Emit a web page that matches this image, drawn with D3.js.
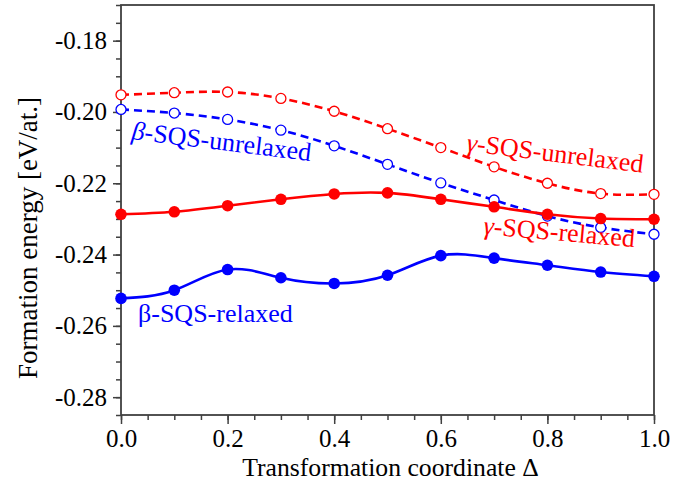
<!DOCTYPE html>
<html>
<head>
<meta charset="utf-8">
<script src="https://cdn.jsdelivr.net/npm/d3@7"></script>
<style>
  body { margin: 0; background: #fff; }
  svg text { font-family: "Liberation Serif", "Times New Roman", serif; }
</style>
</head>
<body>
<svg id="chart" width="681" height="483"></svg>
<script>
// ---- Data ----
const coords = [0.0, 0.1, 0.2, 0.3, 0.4, 0.5, 0.6, 0.7, 0.8, 0.9, 1.0];
const gammaUnrelaxed = [-0.1952, -0.1946, -0.1944, -0.1962, -0.1998, -0.2047, -0.2100, -0.2154, -0.2200, -0.2229, -0.2231];
const betaUnrelaxed  = [-0.1993, -0.2003, -0.2021, -0.2051, -0.2095, -0.2147, -0.2199, -0.2247, -0.2292, -0.2324, -0.2343];
const gammaRelaxed   = [-0.2287, -0.2280, -0.2263, -0.2245, -0.2230, -0.2227, -0.2245, -0.2266, -0.2287, -0.2299, -0.2301];
const betaRelaxed    = [-0.2523, -0.2500, -0.2442, -0.2465, -0.2481, -0.2458, -0.2403, -0.2410, -0.2430, -0.2449, -0.2461];

const xTicks = [0, 0.2, 0.4, 0.6, 0.8, 1.0];
const yTicks = [-0.28, -0.26, -0.24, -0.22, -0.20, -0.18];

// ---- Layout ----
const svg = d3.select('#chart');
const margin = {top: 5, right: 27, bottom: 68, left: 121};
const W = 681, H = 483;
const axisColor = '#404040';

const x = d3.scaleLinear().domain([0, 1]).range([margin.left, W - margin.right]);
const y = d3.scaleLinear().domain([-0.285, -0.17]).range([H - margin.bottom, margin.top]);

// ---- Axes ----
const xAxis = svg.append('g').attr('transform', `translate(0,${H - margin.bottom})`);
xAxis.call(d3.axisBottom(x).tickValues(d3.range(0, 1.001, 0.05)).tickSize(5).tickFormat(''));
xAxis.call(g => g.selectAll('.tick line').attr('stroke', axisColor).attr('stroke-width', 1.5));
const xMajor = svg.append('g').attr('transform', `translate(0,${H - margin.bottom})`)
  .call(d3.axisBottom(x).tickValues(xTicks).tickSize(9).tickPadding(5).tickFormat(d3.format('.1f')));
xMajor.selectAll('.tick text').attr('font-size', 25).attr('fill', '#000').attr('font-family', 'Liberation Serif');
xMajor.selectAll('.tick line').attr('stroke', axisColor).attr('stroke-width', 1.5);

const yAxis = svg.append('g').attr('transform', `translate(${margin.left},0)`);
yAxis.call(d3.axisLeft(y).tickValues(d3.range(-0.285, -0.1699, 0.005)).tickSize(5).tickFormat(''));
yAxis.call(g => g.selectAll('.tick line').attr('stroke', axisColor).attr('stroke-width', 1.5));
const yMajor = svg.append('g').attr('transform', `translate(${margin.left},0)`)
  .call(d3.axisLeft(y).tickValues(yTicks).tickSize(8).tickPadding(6).tickFormat(d3.format('.2f')));
yMajor.selectAll('.tick text').attr('font-size', 25).attr('fill', '#000').attr('font-family', 'Liberation Serif')
  .text(d => d3.format('.2f')(d).replace('−', '-'));
yMajor.selectAll('.tick line').attr('stroke', axisColor).attr('stroke-width', 1.5);

svg.selectAll('.domain').remove();

// plot frame
svg.append('rect')
  .attr('x', x(0)).attr('y', y(-0.17))
  .attr('width', x(1) - x(0)).attr('height', y(-0.285) - y(-0.17))
  .attr('fill', 'none').attr('stroke', axisColor).attr('stroke-width', 1.8);

// ---- Titles ----
svg.append('text')
  .attr('x', (x(0) + x(1)) / 2 + 3).attr('y', 476)
  .attr('text-anchor', 'middle').attr('font-size', 25.7)
  .text('Transformation coordinate Δ');

svg.append('text')
  .attr('transform', 'translate(37,238) rotate(-90)')
  .attr('text-anchor', 'middle').attr('font-size', 27)
  .text('Formation energy [eV/at.]');

// ---- Series ----
const series = [
  {vals: gammaUnrelaxed, color: '#ff0000', dashed: true,  filled: false},
  {vals: betaUnrelaxed,  color: '#0000ff', dashed: true,  filled: false},
  {vals: gammaRelaxed,   color: '#ff0000', dashed: false, filled: true},
  {vals: betaRelaxed,    color: '#0000ff', dashed: false, filled: true}
];

const line = d3.line()
  .x((d, i) => x(coords[i]))
  .y(d => y(d))
  .curve(d3.curveNatural);

series.forEach(s => {
  svg.append('path')
    .datum(s.vals)
    .attr('d', line)
    .attr('fill', 'none')
    .attr('stroke', s.color)
    .attr('stroke-width', 2.6)
    .attr('stroke-dasharray', s.dashed ? '8,5' : null);
});

series.forEach(s => {
  svg.append('g').selectAll('circle')
    .data(s.vals)
    .join('circle')
    .attr('cx', (d, i) => x(coords[i]))
    .attr('cy', d => y(d))
    .attr('r', s.filled ? 5.8 : 5)
    .attr('fill', s.filled ? s.color : '#fff')
    .attr('stroke', s.color)
    .attr('stroke-width', s.filled ? 0 : 1.3);
});

// ---- Series labels ----
function label(tx, ty, angle, color, greek, italicGreek, rest) {
  const t = svg.append('text')
    .attr('transform', `translate(${tx},${ty}) rotate(${angle})`)
    .attr('font-size', 26).attr('fill', color);
  t.append('tspan').attr('font-style', italicGreek ? 'italic' : 'normal').text(greek);
  t.append('tspan').text(rest);
}
label(131, 139, 7, '#0000ff', 'β', true, '-SQS-unrelaxed');
label(466, 151, 7, '#ff0000', 'γ', true, '-SQS-unrelaxed');
label(483, 234, 5, '#ff0000', 'γ', true, '-SQS-relaxed');
label(138, 322, 0, '#0000ff', 'β', false, '-SQS-relaxed');
</script>
</body>
</html>
